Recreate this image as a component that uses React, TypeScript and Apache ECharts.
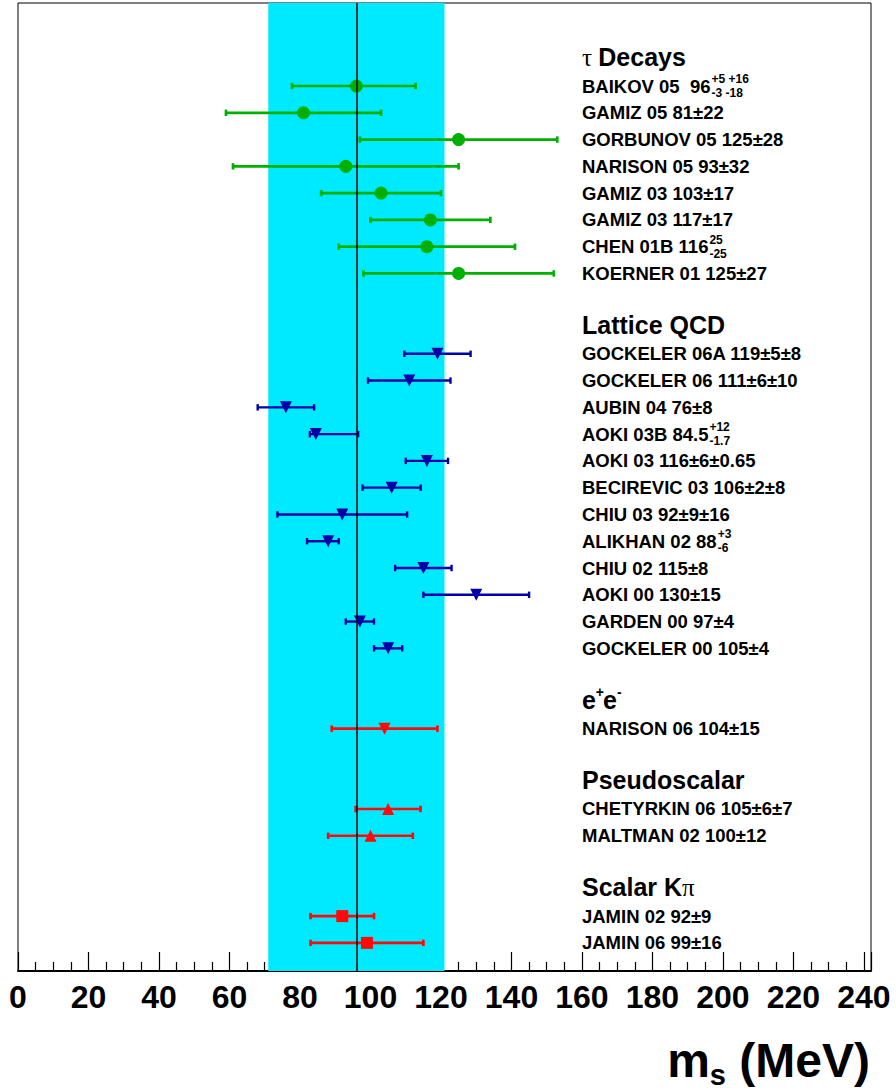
import React, { useEffect, useRef } from 'react';
import * as echarts from 'echarts';

const SANS = '"Liberation Sans", Arial, Helvetica, sans-serif';
const SERIF = '"Liberation Serif", "DejaVu Serif", serif';

// x-axis
const X_MIN = 0;
const X_MAX = 242;
const X_INTERVAL = 20;
const LABEL_X = 160; // data x where the text column starts
const BAND = [71, 121];
const CENTRAL = 96;

// y slots (row index, top to bottom)
const Y_MIN = -3.1;
const Y_MAX = 33.05;

// headers
const headerTexts = ['Decays', 'Lattice QCD', 'e+e-', 'Pseudoscalar', 'Scalar K'];
const headerSlots = [-1, 9, 23, 26, 30];

// tau decays
const tauNames = ['BAIKOV 05  96', 'GAMIZ 05 81±22', 'GORBUNOV 05 125±28', 'NARISON 05 93±32', 'GAMIZ 03 103±17', 'GAMIZ 03 117±17', 'CHEN 01B 116', 'KOERNER 01 125±27'];
const tauSup = ['+5 +16', '', '', '', '', '', '25', ''];
const tauSub = ['-3 -18', '', '', '', '', '', '-25', ''];
const tauSlots = [0, 1, 2, 3, 4, 5, 6, 7];
const tauValue = [96, 81, 125, 93, 103, 117, 116, 125];
const tauLow = [77.75, 59, 97, 61, 86, 100, 91, 98];
const tauHigh = [112.8, 103, 153, 125, 120, 134, 141, 152];

// lattice QCD
const latNames = ['GOCKELER 06A 119±5±8', 'GOCKELER 06 111±6±10', 'AUBIN 04 76±8', 'AOKI 03B 84.5', 'AOKI 03 116±6±0.65', 'BECIREVIC 03 106±2±8', 'CHIU 03 92±9±16', 'ALIKHAN 02 88', 'CHIU 02 115±8', 'AOKI 00 130±15', 'GARDEN 00 97±4', 'GOCKELER 00 105±4'];
const latSup = ['', '', '', '+12', '', '', '', '+3', '', '', '', ''];
const latSub = ['', '', '', '-1.7', '', '', '', '-6', '', '', '', ''];
const latSlots = [10, 11, 12, 13, 14, 15, 16, 17, 18, 19, 20, 21];
const latValue = [119, 111, 76, 84.5, 116, 106, 92, 88, 115, 130, 97, 105];
const latLow = [109.6, 99.3, 68, 82.8, 110, 97.75, 73.6, 82, 107, 115, 93, 101];
const latHigh = [128.4, 122.7, 84, 96.5, 122, 114.25, 110.4, 91, 123, 145, 101, 109];

// e+e-
const eeNames = ['NARISON 06 104±15'];
const eeSlots = [24];
const eeValue = [104];
const eeLow = [89];
const eeHigh = [119];

// pseudoscalar
const psNames = ['CHETYRKIN 06 105±6±7', 'MALTMAN 02 100±12'];
const psSlots = [27, 28];
const psValue = [105, 100];
const psLow = [95.8, 88];
const psHigh = [114.2, 112];

// scalar K pi
const skNames = ['JAMIN 02 92±9', 'JAMIN 06 99±16'];
const skSlots = [31, 32];
const skValue = [92, 99];
const skLow = [83, 83];
const skHigh = [101, 115];

const GREEN = '#00b000';
const BLUE = '#0000a8';
const RED = '#ff0a0a';
const CYAN = '#00eaff';

const groups = [
  { names: tauNames, sup: tauSup, sub: tauSub, slots: tauSlots, value: tauValue, low: tauLow, high: tauHigh, color: GREEN, symbol: 'circle', rotate: 0, size: 13, lw: 2.7 },
  { names: latNames, sup: latSup, sub: latSub, slots: latSlots, value: latValue, low: latLow, high: latHigh, color: BLUE, symbol: 'triangle', rotate: 180, size: 12, lw: 2.4 },
  { names: eeNames, sup: [''], sub: [''], slots: eeSlots, value: eeValue, low: eeLow, high: eeHigh, color: RED, symbol: 'triangle', rotate: 180, size: 12, lw: 2.7 },
  { names: psNames, sup: ['', ''], sub: ['', ''], slots: psSlots, value: psValue, low: psLow, high: psHigh, color: RED, symbol: 'triangle', rotate: 0, size: 12, lw: 2.7 },
  { names: skNames, sup: ['', ''], sub: ['', ''], slots: skSlots, value: skValue, low: skLow, high: skHigh, color: RED, symbol: 'rect', rotate: 0, size: 12, lw: 2.7 },
];

const ROW_FONT = 18.5;
const HEAD_FONT = 25;
const SUP_FONT = 12;

let measureCtx: CanvasRenderingContext2D | null = null;
function tw(text: string, font: string) {
  if (!measureCtx) measureCtx = document.createElement('canvas').getContext('2d');
  measureCtx!.font = font;
  return measureCtx!.measureText(text).width;
}

function txt(x: number, y: number, text: string, size: number, opts: any = {}) {
  const family = opts.family || SANS;
  const weight = opts.weight || 'bold';
  return {
    type: 'text',
    x,
    y,
    silent: true,
    z: 10,
    style: {
      text,
      fill: '#000',
      fontSize: size,
      fontWeight: weight,
      fontFamily: family,
      align: opts.align || 'left',
      verticalAlign: opts.va || 'middle',
    },
  };
}

export default function App() {
  const ref = useRef<HTMLDivElement>(null);
  useEffect(() => {
    const chart = echarts.init(ref.current!, null, { renderer: 'svg' });
    const series: any[] = [];
    series.push({
      type: 'scatter',
      data: [[CENTRAL, 0]],
      symbolSize: 0,
      silent: true,
      z: 1,
      markArea: {
        silent: true,
        itemStyle: { color: CYAN, opacity: 1 },
        data: [[{ xAxis: BAND[0] }, { xAxis: BAND[1] }]],
      },
      markLine: {
        silent: true,
        symbol: ['none', 'none'],
        label: { show: false },
        lineStyle: { color: '#000', width: 1.5, type: 'solid' },
        data: [{ xAxis: CENTRAL }],
      },
    });
    groups.forEach((g) => {
      const color = g.color;
      const lw = g.lw;
      series.push({
        type: 'custom',
        z: 3,
        silent: true,
        encode: { x: [0, 1], y: 2 },
        data: g.slots.map((s, i) => [g.low[i], g.high[i], s]),
        renderItem: (params: any, api: any) => {
          const p1 = api.coord([api.value(0), api.value(2)]);
          const p2 = api.coord([api.value(1), api.value(2)]);
          const c = 3.2;
          const st = { stroke: color, lineWidth: lw };
          return {
            type: 'group',
            children: [
              { type: 'line', shape: { x1: p1[0], y1: p1[1], x2: p2[0], y2: p2[1] }, style: st },
              { type: 'line', shape: { x1: p1[0], y1: p1[1] - c, x2: p1[0], y2: p1[1] + c }, style: st },
              { type: 'line', shape: { x1: p2[0], y1: p2[1] - c, x2: p2[0], y2: p2[1] + c }, style: st },
            ],
          };
        },
      });
      series.push({
        type: 'scatter',
        z: 4,
        silent: true,
        symbol: g.symbol,
        symbolRotate: g.rotate,
        symbolSize: g.size,
        itemStyle: { color, opacity: 1 },
        data: g.slots.map((s, i) => [g.value[i], s]),
      });
    });

    chart.setOption({
      animation: false,
      grid: { left: 18, right: 25, top: 3, bottom: 120, show: true, borderColor: '#000', borderWidth: 1, backgroundColor: 'transparent' },
      xAxis: {
        type: 'value',
        min: X_MIN,
        max: X_MAX,
        interval: X_INTERVAL,
        splitLine: { show: false },
        axisLine: { show: true, onZero: false, lineStyle: { color: '#000', width: 2 } },
        axisTick: { show: true, inside: true, length: 19, lineStyle: { color: '#000', width: 1.2 } },
        minorTick: { show: true, splitNumber: 4, length: 9, lineStyle: { color: '#000', width: 1.2 } },
        minorSplitLine: { show: false },
        axisLabel: { show: true, showMaxLabel: false, color: '#000', fontSize: 32, fontWeight: 'bold', fontFamily: SANS, margin: 10 },
      },
      yAxis: {
        type: 'value',
        inverse: true,
        min: Y_MIN,
        max: Y_MAX,
        show: false,
        axisLine: { onZero: false },
        splitLine: { show: false },
      },
      series,
    });

    const g: any[] = [];
    const rowFont = `bold ${ROW_FONT}px ${SANS}`;
    const headFont = `bold ${HEAD_FONT}px ${SANS}`;
    const xPix = (slot: number) => chart.convertToPixel({ gridIndex: 0 }, [LABEL_X, slot]) as number[];

    // headers
    headerTexts.forEach((t, i) => {
      const [x, y0] = xPix(headerSlots[i]);
      const y = y0 - 2;
      if (i === 0) {
        const tau = 'τ ';
        g.push(txt(x, y, tau, HEAD_FONT, { family: SERIF, weight: 'normal' }));
        const w = tw(tau, `normal ${HEAD_FONT}px ${SERIF}`);
        g.push(txt(x + w, y, t, HEAD_FONT));
      } else if (i === 2) {
        const we = tw('e', headFont);
        const wp = tw('+', `bold 14px ${SANS}`);
        g.push(txt(x, y, 'e', HEAD_FONT));
        g.push(txt(x + we, y - 1, '+', 14, { va: 'bottom' }));
        g.push(txt(x + we + wp - 1, y, 'e', HEAD_FONT));
        g.push(txt(x + 2 * we + wp - 1, y - 1, '-', 14, { va: 'bottom' }));
      } else if (i === 4) {
        g.push(txt(x, y, t, HEAD_FONT));
        const w = tw(t, headFont);
        g.push(txt(x + w, y, 'π', HEAD_FONT, { family: SERIF, weight: 'normal' }));
      } else {
        g.push(txt(x, y, t, HEAD_FONT));
      }
    });

    // rows
    groups.forEach((gr) => {
      gr.names.forEach((name, i) => {
        const [x, y] = xPix(gr.slots[i]);
        g.push(txt(x, y, name, ROW_FONT));
        const w = tw(name, rowFont);
        if (gr.sup[i]) g.push(txt(x + w + 1, y - 1, gr.sup[i], SUP_FONT, { va: 'bottom' }));
        if (gr.sub[i]) g.push(txt(x + w + 1, y + 1, gr.sub[i], SUP_FONT, { va: 'top' }));
      });
    });

    // axis title
    const TF = 48;
    const titleFont = `bold ${TF}px ${SANS}`;
    const rightX = 870;
    const ty = 1060;
    const wMeV = tw(' (MeV)', titleFont);
    g.push(txt(rightX, ty, ' (MeV)', TF, { align: 'right' }));
    const ws = tw('s', `bold 29px ${SANS}`);
    g.push(txt(rightX - wMeV - ws, ty + 15, 's', 29));
    const wm = tw('m', titleFont);
    g.push(txt(rightX - wMeV - ws - wm, ty, 'm', TF));

    chart.setOption({ graphic: g });
    return () => chart.dispose();
  }, []);
  return <div ref={ref} style={{ position: 'fixed', left: 0, top: 0, width: 896, height: 1091, background: '#fff' }} />;
}
